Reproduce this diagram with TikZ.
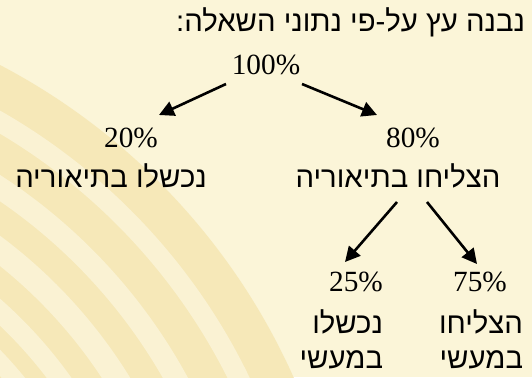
\documentclass[tikz,border=0pt]{standalone}
\usepackage{fontspec}
\setmainfont{Liberation Serif}
\newfontfamily\heb[Script=Hebrew]{Liberation Sans}
\TeXXeTstate=1
\usetikzlibrary{arrows.meta,calc}
\definecolor{bgbase}{RGB}{251,245,216}
\definecolor{bgdark}{RGB}{246,232,184}
\definecolor{bglight}{RGB}{250,242,211}
\begin{document}
\begin{tikzpicture}[x=1pt,y=-1pt,
  hebtxt/.style={font=\heb\fontsize{29.3}{35}\selectfont, inner sep=0pt, outer sep=0pt},
  numtxt/.style={font=\fontsize{29.3}{35}\selectfont, inner sep=0pt, outer sep=0pt},
  arr/.style={line width=2.6pt, -{Triangle[length=15pt,width=15pt]}}]
\useasboundingbox (0,0) rectangle (532,377);
% background
\fill[bgbase] (0,0) rectangle (532,377);
\begin{scope}
  \clip (0,0) rectangle (532,377);
  \fill[bgdark] (-302,643) circle (652pt);
  \draw[bglight, line width=20pt] (-302,643) circle (602pt);
  \draw[bglight, line width=22pt] (-302,643) circle (546pt);
  \draw[bglight, line width=24pt] (-302,643) circle (495pt);
  \draw[bglight, line width=20pt] (-302,643) circle (448pt);
  \draw[bglight, line width=18pt] (-302,643) circle (412pt);
\end{scope}
% texts
\node[hebtxt, anchor=base east] (title) at (525,32) {\beginR נבנה עץ על-פי נתוני השאלה:\endR};
\node[numtxt, anchor=base] (p100) at (266,75) {100\%};
\node[numtxt, anchor=base] (p20) at (131,147) {20\%};
\node[numtxt, anchor=base] (p80) at (413,147) {80\%};
\node[hebtxt, anchor=base] (t20) at (111,187) {\beginR נכשלו בתיאוריה\endR};
\node[hebtxt, anchor=base] (t80) at (398,187) {\beginR הצליחו בתיאוריה\endR};
\node[numtxt, anchor=base] (p25) at (356,291) {25\%};
\node[numtxt, anchor=base] (p75) at (480,291) {75\%};
\node[hebtxt, anchor=base east] (t25a) at (383,333) {\beginR נכשלו\endR};
\node[hebtxt, anchor=base east] (t25b) at (383,368) {\beginR במעשי\endR};
\node[hebtxt, anchor=base east] (t75a) at (523,333) {\beginR הצליחו\endR};
\node[hebtxt, anchor=base east] (t75b) at (523,368) {\beginR במעשי\endR};
% arrows
\draw[arr] ($(p100.base)+(-40,9)$) -- ($(p20.base)+(28,-32)$);
\draw[arr] ($(p100.base)+(36,9)$) -- ($(p80.base)+(-36,-32)$);
\draw[arr] ($(t80.base)+(-1,15)$) -- ($(p25.base)+(-11,-29)$);
\draw[arr] ($(t80.base)+(29,15)$) -- ($(p75.base)+(-3,-27)$);
\end{tikzpicture}
\end{document}
